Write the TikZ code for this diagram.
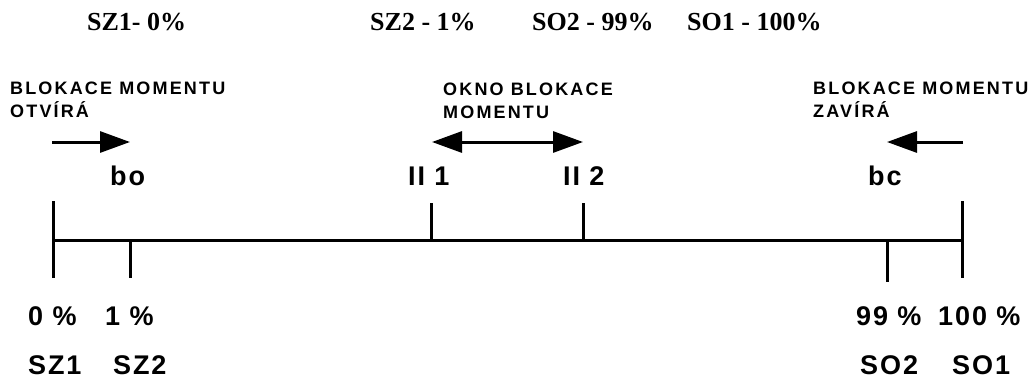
\documentclass[tikz,border=0pt]{standalone}
\usepackage{fontspec}
\setmainfont{Liberation Serif}[BoldFont={Liberation Serif Bold}]
\newfontfamily\labfont{Liberation Sans}[LetterSpace=7,BoldFont={Liberation Sans Bold}]
\newfontfamily\notefont{Liberation Sans}[LetterSpace=12,BoldFont={Liberation Sans Bold}]
\usetikzlibrary{arrows.meta}
\begin{document}
\begin{tikzpicture}[x=1pt,y=-1pt,
  toplab/.style={font=\fontsize{26}{26}\selectfont\bfseries, anchor=base west, inner sep=0pt},
  lab/.style={font=\labfont\fontsize{27}{27}\selectfont\bfseries, anchor=base west, inner sep=0pt},
  note/.style={font=\notefont\fontsize{18}{23}\selectfont\bfseries, anchor=north west, align=left, inner sep=0pt},
  axis/.style={line width=3pt},
  arr/.style={line width=3pt, -{Triangle[length=30pt,width=21pt]}},
  darr/.style={line width=3pt, {Triangle[length=30pt,width=21pt]}-{Triangle[length=30pt,width=21pt]}}]
\useasboundingbox (0,0) rectangle (1030,378);
% top serif labels
\node[toplab] (tsz1) at (87,30) {SZ1- 0\%};
\node[toplab] (tsz2) at (370,30) {SZ2 - 1\%};
\node[toplab] (tso2) at (532,30) {SO2 - 99\%};
\node[toplab] (tso1) at (687,30) {SO1 - 100\%};
% notes
\node[note] (nleft) at (10,82) {BLOKACE MOMENTU\\OTVÍRÁ};
\node[note] (nmid) at (443,83) {OKNO BLOKACE\\MOMENTU};
\node[note] (nright) at (813,82) {BLOKACE MOMENTU\\ZAVÍRÁ};
% arrows
\coordinate (a1s) at (52,142); \coordinate (a1e) at (130,142);
\coordinate (a2s) at (432,142); \coordinate (a2e) at (583,142);
\coordinate (a3s) at (963,142); \coordinate (a3e) at (887,142);
\draw[arr] (a1s) -- (a1e);
\draw[darr] (a2s) -- (a2e);
\draw[arr] (a3s) -- (a3e);
% upper labels
\node[lab] (bo) at (110,185) {bo};
\node[lab] (ii1) at (408,185) {II 1};
\node[lab] (ii2) at (563,185) {II 2};
\node[lab] (bc) at (868,185) {bc};
% axis
\coordinate (m0) at (53,240); \coordinate (m5) at (962,240);
\coordinate (t0a) at (53,201); \coordinate (t0b) at (53,278);
\coordinate (t1a) at (130,240); \coordinate (t1b) at (130,278);
\coordinate (t2a) at (431,203); \coordinate (t2b) at (431,240);
\coordinate (t3a) at (583,203); \coordinate (t3b) at (583,240);
\coordinate (t4a) at (887,240); \coordinate (t4b) at (887,282);
\coordinate (t5a) at (962,201); \coordinate (t5b) at (962,278);
\draw[axis] (m0) -- (m5);
\draw[axis] (t0a) -- (t0b);
\draw[axis] (t1a) -- (t1b);
\draw[axis] (t2a) -- (t2b);
\draw[axis] (t3a) -- (t3b);
\draw[axis] (t4a) -- (t4b);
\draw[axis] (t5a) -- (t5b);
% bottom labels
\node[lab] (p0) at (28,325) {0 \%};
\node[lab] (p1) at (105,325) {1 \%};
\node[lab] (p99) at (856,325) {99 \%};
\node[lab] (p100) at (938,325) {100 \%};
\node[lab] (sz1) at (28,374) {SZ1};
\node[lab] (sz2) at (113,374) {SZ2};
\node[lab] (so2) at (860,374) {SO2};
\node[lab] (so1) at (952,374) {SO1};
\end{tikzpicture}
\end{document}
